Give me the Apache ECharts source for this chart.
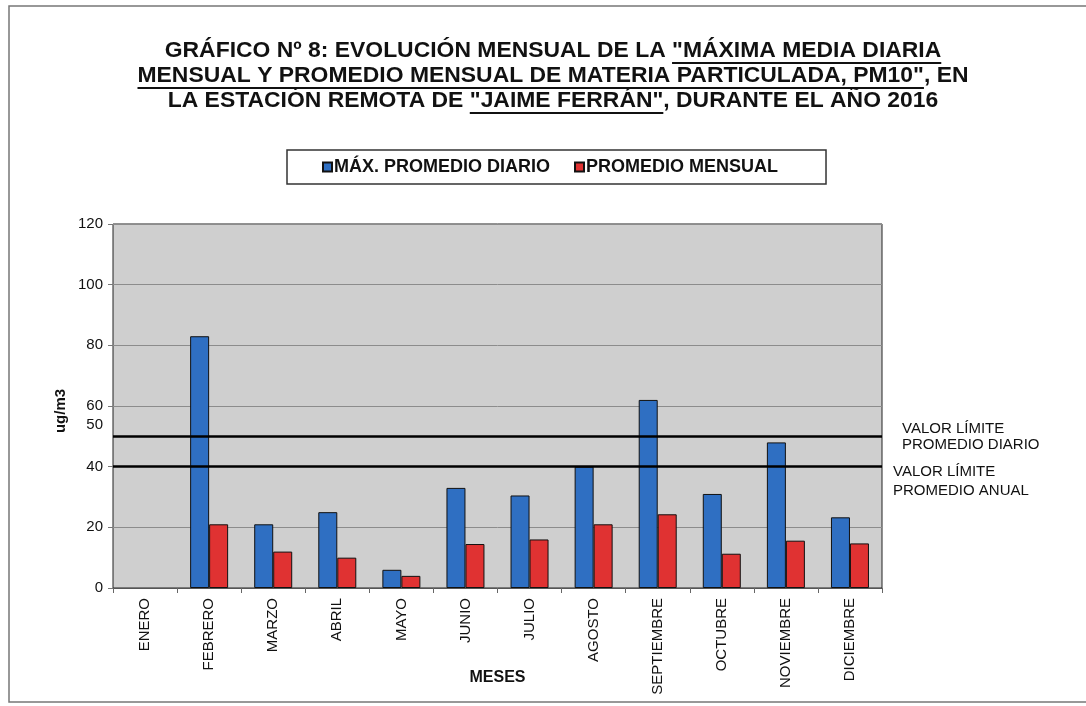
<!DOCTYPE html>
<html><head><meta charset="utf-8">
<script src="https://cdn.jsdelivr.net/npm/echarts@6/dist/echarts.min.js"></script>
<style>html,body{margin:0;padding:0;background:#fff}#c{width:1086px;height:706px}</style>
</head><body><div id="c"></div>
<script>
const months = ['ENERO','FEBRERO','MARZO','ABRIL','MAYO','JUNIO','JULIO','AGOSTO','SEPTIEMBRE','OCTUBRE','NOVIEMBRE','DICIEMBRE'];
const maxDaily = [null, 83, 21, 25, 6, 33, 30.5, 40, 62, 31, 48, 23.3];
const monthlyAvg = [null, 21, 12, 10, 4, 14.5, 16, 21, 24.3, 11.3, 15.6, 14.7];
const limitDaily = 50;
const limitAnnual = 40;
const yTicks = [0, 20, 40, 60, 80, 100, 120];
const seriesNames = ['MÁX. PROMEDIO DIARIO', 'PROMEDIO MENSUAL'];
const titleLines = [
  ['GRÁFICO Nº 8: EVOLUCIÓN MENSUAL DE LA ', '"MÁXIMA MEDIA DIARIA', ''],
  ['', 'MENSUAL Y PROMEDIO MENSUAL DE MATERIA PARTICULADA, PM10"', ', EN'],
  ['LA ESTACIÓN REMOTA DE ', '"JAIME FERRÁN"', ', DURANTE EL AÑO 2016']
];

const TFONT = 'bold 22px "Liberation Sans", Arial, sans-serif';
const cv = document.createElement('canvas').getContext('2d');
cv.font = TFONT;
const cx = 553;
const sx = 831 / cv.measureText(titleLines[1].join('')).width;
const graphics = [];
graphics.push({type:'rect', shape:{x:9, y:6, width:1090, height:696}, style:{fill:'none', stroke:'#777', lineWidth:1.5}, silent:true});
titleLines.forEach((parts, i) => {
  const full = parts.join('');
  const w = cv.measureText(full).width * sx;
  const x0 = cx - w / 2;
  const yc = 51 + i * 25;
  graphics.push({type:'text', x: cx, y: yc, scaleX: sx, style:{text: full, x: 0, y: 0, textAlign:'center', textVerticalAlign:'middle', font: TFONT, fill:'#111'}});
  const u0 = x0 + cv.measureText(parts[0]).width * sx;
  const u1 = u0 + cv.measureText(parts[1]).width * sx;
  graphics.push({type:'line', shape:{x1:u0, y1:yc+12, x2:u1, y2:yc+12}, style:{stroke:'#111', lineWidth:1.8}, silent:true});
});

const chart = echarts.init(document.getElementById('c'));
chart.setOption({
  animation: false,
  backgroundColor: '#fff',
  graphic: graphics,
  legend: {
    data: seriesNames,
    left: 287, top: 150,
    padding: [8, 48, 8, 35],
    itemGap: 24,
    itemWidth: 9, itemHeight: 9,
    borderColor: '#333', borderWidth: 1.5,
    icon: 'rect',
    textStyle: {fontFamily: 'Liberation Sans, Arial, sans-serif', fontWeight: 'bold', fontSize: 18, color: '#111', padding:[2,0,0,-3]}
  },
  grid: {left: 113, right: 204, top: 224, bottom: 118, outerBoundsMode: 'none', containLabel: false, show: true, backgroundColor: '#cfcfcf', borderColor: '#222', borderWidth: 1},
  xAxis: {
    type: 'category', data: months,
    name: 'MESES', nameLocation: 'middle', nameGap: 82, nameMoveOverlap: false,
    nameTextStyle: {fontFamily: 'Liberation Sans, Arial', fontWeight: 'bold', fontSize: 16, color: '#111'},
    axisLine: {lineStyle: {color: '#555'}},
    axisTick: {show: true, length: 5, lineStyle: {color: '#666'}},
    axisLabel: {rotate: 90, fontFamily: 'Liberation Sans, Arial', fontSize: 15, color: '#111', margin: 10}
  },
  yAxis: {
    type: 'value', min: yTicks[0], max: yTicks[yTicks.length-1], interval: 20,
    name: 'ug/m3', nameLocation: 'middle', nameGap: 45, nameRotate: 90, nameMoveOverlap: false,
    nameTextStyle: {fontFamily: 'Liberation Sans, Arial', fontWeight: 'bold', fontSize: 15, color: '#111', padding:[0,0,0,-10]},
    axisLine: {show: false},
    axisTick: {show: true, length: 5, lineStyle: {color: '#777'}},
    splitLine: {lineStyle: {color: '#8c8c8c', width: 1}},
    axisLabel: {fontFamily: 'Liberation Sans, Arial', fontSize: 15, color: '#111', margin: 10}
  },
  series: [
    {
      name: seriesNames[0], type: 'bar', data: maxDaily, barWidth: 19, barGap: '0%',
      itemStyle: {color: '#2f6fc2', borderColor: '#111', borderWidth: 1},
      markLine: {
        silent: true, symbol: 'none',
        data: [
          {yAxis: limitDaily, lineStyle: {color: '#000', width: 2.5, type: 'solid'},
           label: {show: true, position: 'end', distance: 20, formatter: 'VALOR LÍMITE\nPROMEDIO DIARIO', fontFamily: 'Liberation Sans, Arial', fontSize: 15, color: '#111', lineHeight: 16, align: 'left', offset:[0, 1]}},
          {yAxis: limitAnnual, lineStyle: {color: '#000', width: 2.5, type: 'solid'},
           label: {show: true, position: 'end', distance: 11, formatter: 'VALOR LÍMITE\nPROMEDIO ANUAL', fontFamily: 'Liberation Sans, Arial', fontSize: 15, color: '#111', lineHeight: 19, align: 'left', offset:[0, 15]}},
          {yAxis: limitDaily, lineStyle: {color: 'rgba(0,0,0,0)', width: 1},
           label: {show: true, position: 'start', distance: 10, formatter: String(limitDaily), fontFamily: 'Liberation Sans, Arial', fontSize: 15, color: '#111', offset:[0,-11]}}
        ]
      }
    },
    {
      name: seriesNames[1], type: 'bar', data: monthlyAvg, barWidth: 19,
      itemStyle: {color: '#e03232', borderColor: '#111', borderWidth: 1}
    }
  ]
});
</script></body></html>
